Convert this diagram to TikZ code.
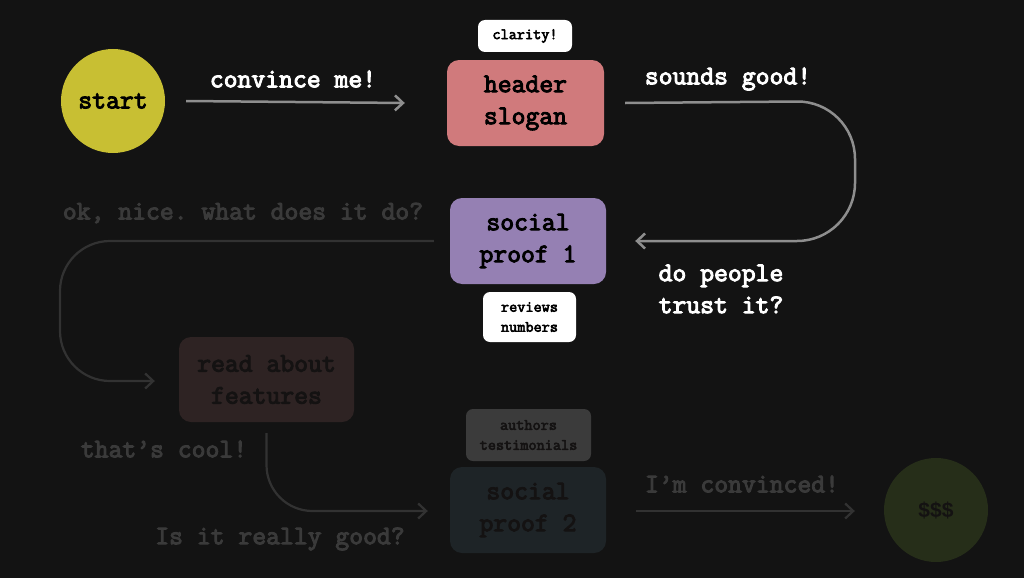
\documentclass[tikz,border=0pt]{standalone}
\usepackage{fontspec}
\newfontfamily\codefont{Latin Modern Mono}[FakeBold=3.6,Ligatures=TeX]
\newfontfamily\dollarfont{Liberation Sans}
\usetikzlibrary{arrows.meta}

\definecolor{bg}{HTML}{131313}
\definecolor{startcol}{HTML}{C8BF33}
\definecolor{headcol}{HTML}{D07A7C}
\definecolor{proofcol}{HTML}{9580B3}
\definecolor{featcol}{HTML}{2E2323}
\definecolor{prooftwocol}{HTML}{1E2427}
\definecolor{authcol}{HTML}{3B3B3B}
\definecolor{moneycol}{HTML}{262E19}
\definecolor{linecol}{HTML}{8E8E8E}
\definecolor{fadeline}{HTML}{323232}
\definecolor{fadetext}{HTML}{3A3A3A}
\definecolor{darktext}{HTML}{141212}

\begin{document}
\frenchspacing
\begin{tikzpicture}
	[x=1pt,y=-1pt,every node/.style={font=\codefont\bfseries\fontsize{26.9}{32}\selectfont, inner sep=0pt, align=center}]
	\tikzstyle{box} = [rectangle, rounded corners=12pt, minimum width=156pt, minimum height=86pt];
	\tikzstyle{tag} = [rectangle, rounded corners=7pt, font=\codefont\bfseries\fontsize{15.8}{20}\selectfont];
	\tikzstyle{dot} = [circle, minimum size=104pt];
	\tikzstyle{edges} = [line width=2.5pt, draw=linecol, -{Straight Barb[length=8pt,width=15pt]}];
	\tikzstyle{fadededges} = [line width=2.2pt, draw=fadeline, -{Straight Barb[length=8pt,width=15pt]}];

	% background
	\fill[bg] (0,0) rectangle (1024,578);
	\useasboundingbox (0,0) rectangle (1024,578);

	% bright part
	\node[dot, fill=startcol, text=black] (start) at (113,101) {start};
	\node[box, fill=headcol, text=black, minimum width=157pt] (head) at (525.5,103) {header\\slogan};
	\node[tag, fill=white, text=black, minimum width=94pt, minimum height=32pt] (clarity) at (525,36) {clarity!};
	\node[box, fill=proofcol, text=black] (proof1) at (528,241) {social\\proof 1};
	\node[tag, fill=white, text=black, minimum width=93pt, minimum height=50pt] (reviews) at (529.5,317) {reviews\\numbers};

	\node[text=white] (convince) at (293,79) {convince me!};
	\node[text=white] (sounds) at (728,79) {sounds good!};
	\node[text=white, align=left] (trust) at (721,289) {do people\\trust it?};

	\draw[edges] ([xshift=21pt]start.east) -- ([xshift=-42pt]head.west);
	\draw[edges, rounded corners=58pt] ([xshift=21pt]head.east) -- (855,101) -- (855,241) -- ([xshift=29pt]proof1.east);

	% faded part
	\node[box, fill=featcol, text=darktext, minimum width=175pt, minimum height=85pt] (feat) at (266.5,379.5) {read about\\features};
	\node[tag, fill=authcol, text=darktext, minimum width=125pt, minimum height=52pt] (authors) at (528.5,435) {authors\\testimonials};
	\node[box, fill=prooftwocol, text=darktext] (proof2) at (528,510) {social\\proof 2};
	\node[dot, fill=moneycol, text=darktext, font=\dollarfont\bfseries\fontsize{21}{24}\selectfont] (money) at (936,510) {\$\$\$};

	\node[text=fadetext] (whatdo) at (243,213) {ok, nice. what does it do?};
	\node[text=fadetext] (cool) at (164,449) {that's cool!};
	\node[text=fadetext] (really) at (280,539) {Is it really good?};
	\node[text=fadetext] (convinced) at (742,484) {I'm convinced!};

	\draw[fadededges, rounded corners=50pt] ([xshift=-16pt]proof1.west) -- (60,241) -- (60,381) -- ([xshift=-24pt,yshift=-1.5pt]feat.west);
	\draw[fadededges, rounded corners=46pt] ([yshift=-11pt]feat.south) -- (266.5,511) -- ([xshift=-22pt,yshift=-1pt]proof2.west);
	\draw[fadededges] ([xshift=30pt,yshift=-1pt]proof2.east) -- ([xshift=-29pt,yshift=-1pt]money.west);
\end{tikzpicture}
\end{document}
